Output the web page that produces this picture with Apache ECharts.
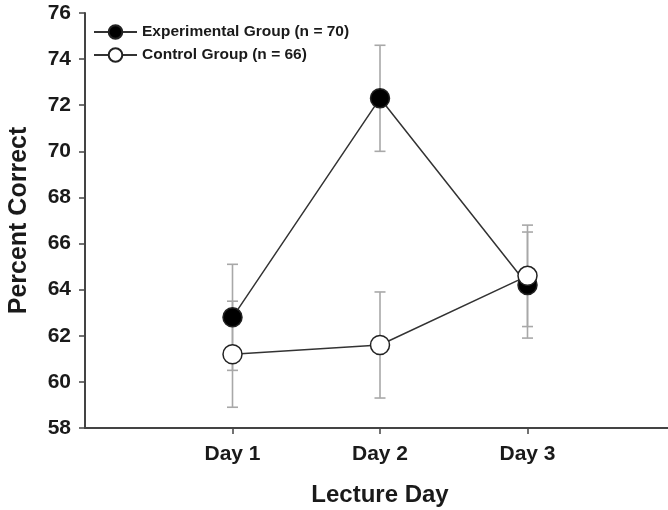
<!DOCTYPE html>
<html>
<head>
<meta charset="utf-8">
<script src="https://cdn.jsdelivr.net/npm/echarts@6/dist/echarts.min.js"></script>
<style>
  html, body { margin: 0; padding: 0; background: #fff; }
  #chart { width: 668px; height: 510px; }
</style>
</head>
<body>
<div id="chart"></div>
<script>
// values
const days = ["Day 1", "Day 2", "Day 3"];
const dayPos = [1, 2, 3];
const expName = "Experimental Group (n = 70)";
const ctrlName = "Control Group (n = 66)";
const expMean = [62.8, 72.3, 64.2];
const expErr = [2.3, 2.3, 2.3];
const ctrlMean = [61.2, 61.6, 64.6];
const ctrlErr = [2.3, 2.3, 2.2];

const font = "Liberation Sans, Arial, sans-serif";

const pairs = (means) => dayPos.map((x, i) => [x, means[i]]);
const bars = (means, errs) =>
  dayPos.map((x, i) => [x, means[i] - errs[i], means[i] + errs[i]]);

function renderErr(params, api) {
  const x = api.value(0);
  const lo = api.coord([x, api.value(1)]);
  const hi = api.coord([x, api.value(2)]);
  const w = 5.5;
  const style = { stroke: "#a8a8a8", lineWidth: 1.6 };
  return {
    type: "group",
    children: [
      { type: "line", shape: { x1: lo[0], y1: lo[1], x2: hi[0], y2: hi[1] }, style },
      { type: "line", shape: { x1: hi[0] - w, y1: hi[1], x2: hi[0] + w, y2: hi[1] }, style },
      { type: "line", shape: { x1: lo[0] - w, y1: lo[1], x2: lo[0] + w, y2: lo[1] }, style }
    ]
  };
}

const chart = echarts.init(document.getElementById("chart"));
chart.setOption({
  animation: false,
  textStyle: { fontFamily: font },
  grid: {
    left: 85, top: 13, width: 590, height: 415,
    containLabel: false,
    outerBoundsMode: "none"
  },
  legend: {
    orient: "vertical",
    left: 88,
    top: 19,
    itemWidth: 43,
    itemHeight: 17,
    itemGap: 7,
    textStyle: { fontFamily: font, fontWeight: "bold", fontSize: 15.5, color: "#1a1a1a" },
    data: [expName, ctrlName]
  },
  xAxis: {
    type: "value",
    min: 0,
    max: 4,
    interval: 1,
    name: "Lecture Day",
    nameLocation: "middle",
    nameGap: 55,
    nameTextStyle: { fontFamily: font, fontWeight: "bold", fontSize: 24, color: "#1a1a1a" },
    axisLine: { lineStyle: { color: "#444", width: 2 } },
    axisTick: { customValues: dayPos, length: 6, lineStyle: { color: "#444", width: 1.5 } },
    axisLabel: {
      customValues: dayPos,
      margin: 16,
      fontFamily: font, fontWeight: "bold", fontSize: 21, color: "#1a1a1a",
      formatter: (v) => days[dayPos.indexOf(v)]
    },
    splitLine: { show: false }
  },
  yAxis: {
    type: "value",
    min: 58,
    max: 76,
    interval: 2,
    name: "Percent Correct",
    nameLocation: "middle",
    nameGap: 53,
    nameTextStyle: { fontFamily: font, fontWeight: "bold", fontSize: 25, color: "#1a1a1a" },
    axisLine: { show: true, lineStyle: { color: "#444", width: 2 } },
    axisTick: { show: true, length: 6, lineStyle: { color: "#444", width: 1.5 } },
    axisLabel: { margin: 14, fontFamily: font, fontWeight: "bold", fontSize: 21, color: "#1a1a1a" },
    splitLine: { show: false }
  },
  series: [
    {
      type: "custom",
      renderItem: renderErr,
      data: bars(expMean, expErr),
      encode: { x: 0, y: [1, 2] },
      clip: false,
      z: 1,
      silent: true
    },
    {
      type: "custom",
      renderItem: renderErr,
      data: bars(ctrlMean, ctrlErr),
      encode: { x: 0, y: [1, 2] },
      clip: false,
      z: 1,
      silent: true
    },
    {
      name: expName,
      type: "line",
      data: pairs(expMean),
      symbol: "circle",
      symbolSize: 19,
      lineStyle: { color: "#333", width: 1.5 },
      itemStyle: { color: "#000", borderColor: "#222", borderWidth: 1.5 },
      z: 3
    },
    {
      name: ctrlName,
      type: "line",
      data: pairs(ctrlMean),
      symbol: "circle",
      symbolSize: 19,
      lineStyle: { color: "#333", width: 1.5 },
      itemStyle: { color: "#fff", borderColor: "#222", borderWidth: 1.5 },
      z: 4
    }
  ]
});
</script>
</body>
</html>
